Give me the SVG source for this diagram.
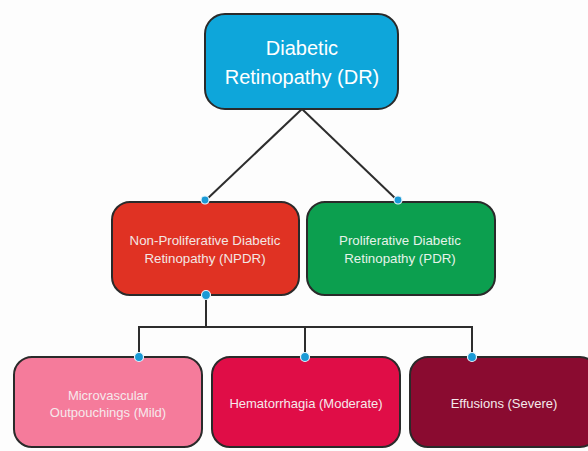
<svg xmlns="http://www.w3.org/2000/svg" width="588" height="451" viewBox="0 0 588 451">
<style>
.box{stroke:#2a2a2a;stroke-width:2}
.t{font-family:"Liberation Sans",Arial,sans-serif;fill:#fff;text-anchor:middle}
.big{font-size:20px}
.mid{font-size:13.3px;fill:#f3e6e4}
.sm{font-size:13px;fill:#f5e9ec}
.con{stroke:#2d2d2d;stroke-width:2;fill:none}
.dot{fill:#1a9ad6;stroke:#e8f4fa;stroke-width:1.2}
</style>
<rect width="588" height="451" fill="#fdfdfd"/>
<g id="connectors">
<line class="con" x1="302" y1="109" x2="206" y2="200"/>
<line class="con" x1="302" y1="109" x2="397" y2="200"/>
<polyline class="con" points="206,295 206,327 139,327 139,357"/>
<polyline class="con" points="139,327 472,327 472,357"/>
<line class="con" x1="305" y1="327" x2="305" y2="357"/>
</g>
<g id="dr">
<rect class="box" x="205" y="14" width="193" height="95" rx="20" fill="#0ea6da"/>
<text class="t big" x="302" y="55">Diabetic</text>
<text class="t big" x="302" y="84">Retinopathy (DR)</text>
</g>
<g id="npdr">
<rect class="box" x="112" y="202" width="187" height="93" rx="18" fill="#e03223"/>
<text class="t mid" x="205" y="245">Non-Proliferative Diabetic</text>
<text class="t mid" x="205" y="263">Retinopathy (NPDR)</text>
</g>
<g id="pdr">
<rect class="box" x="307" y="202" width="188" height="93" rx="18" fill="#0c9f4f"/>
<text class="t mid" x="400" y="245" style="fill:#e6f3ea">Proliferative Diabetic</text>
<text class="t mid" x="400" y="263" style="fill:#e6f3ea">Retinopathy (PDR)</text>
</g>
<g id="mild">
<rect class="box" x="14" y="357" width="188" height="90" rx="18" fill="#f57b9b"/>
<text class="t sm" x="108" y="400">Microvascular</text>
<text class="t sm" x="108" y="417">Outpouchings (Mild)</text>
</g>
<g id="moderate">
<rect class="box" x="212" y="357" width="188" height="90" rx="18" fill="#e00d47"/>
<text class="t sm" x="306" y="408">Hematorrhagia (Moderate)</text>
</g>
<g id="severe">
<rect class="box" x="410" y="357" width="188" height="90" rx="18" fill="#8a0b30"/>
<text class="t sm" x="504" y="408">Effusions (Severe)</text>
</g>
<g id="dots">
<circle class="dot" cx="205" cy="200" r="4"/>
<circle class="dot" cx="398" cy="200" r="4"/>
<circle class="dot" cx="206" cy="295" r="4.5"/>
<circle class="dot" cx="139" cy="357" r="4.5"/>
<circle class="dot" cx="305" cy="357" r="4.5"/>
<circle class="dot" cx="472" cy="357" r="4.5"/>
</g>
</svg>
